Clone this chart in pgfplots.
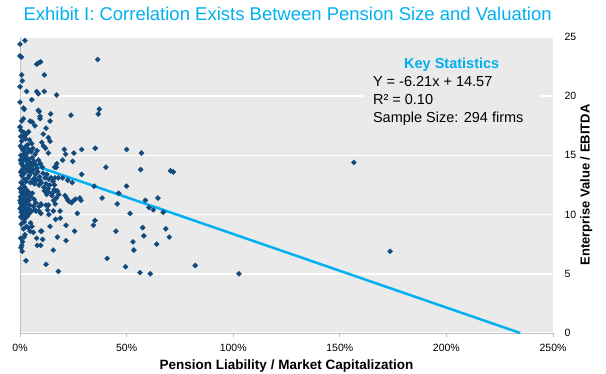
\documentclass[border=0pt]{standalone}
\usepackage{pgfplots}
\pgfplotsset{compat=1.18}
\usepackage{fontspec}
\setmainfont{Liberation Sans}
\definecolor{bggray}{RGB}{234,234,234}
\definecolor{axisgray}{RGB}{191,191,191}
\definecolor{ptblue}{RGB}{18,74,125}
\definecolor{cyanline}{RGB}{0,176,240}
\begin{document}
\begin{tikzpicture}
\useasboundingbox (0,0) rectangle (606bp,374bp);
\begin{axis}[
  at={(20bp,41bp)}, anchor=south west,
  scale only axis, width=533bp, height=296bp,
  xmin=0, xmax=250, ymin=0, ymax=25,
  axis background/.style={fill=bggray},
  separate axis lines,
  axis x line*=bottom,
  axis y line*=right,
  x axis line style={draw=axisgray, line width=0.8bp, -},
  y axis line style={draw=none, -},
  xtick={0,50,...,250},
  ytick={0,5,...,25},
  xticklabel={\pgfmathprintnumber{\tick}\%},
  tick align=outside,
  xtick style={draw=axisgray, line width=0.8bp},
  major tick length=3.5bp,
  ytick style={draw=none},
  ymajorgrids,
  major grid style={white, line width=1.6bp},
  /pgf/number format/assume math mode=true,
  tick label style={font=\fontsize{10.5bp}{12bp}\selectfont},
  xticklabel style={yshift=-4bp},
  yticklabel style={anchor=west, xshift=4.5bp},
  xlabel={Pension Liability / Market Capitalization},
  every axis x label/.style={at={(rel axis cs:0.5,0)}, anchor=base, yshift=-36bp, font=\fontsize{13.5bp}{15bp}\selectfont\bfseries},
  ylabel={Enterprise Value / EBITDA},
  every axis y label/.style={at={(rel axis cs:1,0.5)}, xshift=36.5bp, rotate=90, anchor=base, font=\fontsize{13bp}{15bp}\selectfont\bfseries},
  title={Exhibit I: Correlation Exists Between Pension Size and Valuation},
  title style={at={(rel axis cs:0,1)}, anchor=base west, yshift=11bp, font=\fontsize{18.5bp}{21bp}\selectfont, text=cyanline},
  clip=false,
]
\draw[axisgray, line width=0.8bp] (rel axis cs:0,0) -- (rel axis cs:0,1);
\addplot[only marks, mark=square*, mark size=1.8bp, color=ptblue, mark options={fill=ptblue, rotate=45}] table {
x y
0 24.4
2.3 24.7
0 23.4
0.7 23.3
7.8 22.7
8.6 22.8
9.7 22.9
36.4 23.1
0.8 21.8
1.1 21.3
11.4 21.8
0 20.8
3.1 20.4
7.8 20.4
8.6 20.2
11.4 20.4
17.2 20.1
5.5 19.7
0 19.5
1.6 19.0
2.0 18.9
8.6 18.8
9.0 18.7
9.4 18.3
9.4 18.1
14.4 18.5
23.9 18.4
37.2 18.9
36.7 18.5
14.1 17.9
0.8 17.9
1.6 18.1
4.7 17.9
5.8 17.8
7.0 17.5
12.2 17.3
0 17.4
0.5 17.1
1.2 17.0
2.0 16.9
0.3 16.6
1.5 16.6
3.0 16.8
4.0 17.0
2.6 16.4
0.8 16.2
10.9 16.8
13.3 16.5
14.1 16.2
10.2 16.1
4.5 16.3
5.5 16.0
3.5 15.9
20.8 15.5
28.9 15.5
35.3 15.6
50 15.5
57 15.2
25.3 15.2
21.4 15.1
13.3 15.2
12 15.6
11 15.8
40.3 14.0
56.6 13.8
70.6 13.7
71.9 13.6
50 12.4
24.7 14.5
20.0 14.6
17.2 14.3
17.0 14.0
16.3 14.0
0.2 15.8
0.9 15.6
1.7 15.4
2.4 15.7
3.3 15.2
4.1 15.5
5.2 15.3
6.0 15.6
7.1 15.1
8.0 15.4
0.4 15.0
1.3 14.8
2.1 14.9
3.0 14.6
3.9 14.7
4.8 14.4
5.7 14.8
6.6 14.5
7.5 14.2
8.7 14.6
9.6 14.3
10.5 14.0
0.6 14.3
1.5 14.1
2.6 13.9
3.6 13.7
4.4 13.9
5.4 13.6
6.3 13.8
7.2 13.4
8.3 13.6
9.2 13.2
10.8 13.5
11.7 13.1
12.6 13.4
13.5 13.0
14.6 13.1
15.5 12.8
0.8 13.3
1.9 13.0
2.8 12.8
3.8 13.1
4.9 12.7
5.9 12.9
6.8 12.6
7.8 12.9
8.9 12.5
10.0 12.7
11.2 12.3
12.3 12.6
13.2 12.2
14.0 12.5
16.4 13.1
18.0 13.1
20.0 13.1
22.4 12.9
24.5 12.7
28.9 13.4
34.8 12.4
16.2 12.5
16.8 12.0
12.5 11.9
11.4 12.0
0 12.2
0.5 11.9
1.2 12.1
2.0 11.8
0.3 11.5
1.0 11.3
1.8 11.6
2.6 11.4
3.4 11.7
4.2 11.2
5.0 11.5
5.8 11.8
6.6 11.3
7.4 11.0
0.2 11.0
0.8 10.8
1.5 10.9
2.3 10.6
3.1 10.9
3.9 10.5
4.7 10.8
5.5 10.3
6.3 10.7
7.0 10.4
7.5 10.3
0.1 10.5
0.6 10.2
1.3 10.3
2.0 10.0
2.8 10.2
3.6 9.9
4.4 10.1
0.4 9.8
1.1 9.7
1.9 9.9
9.8 10.8
8.9 10.3
8.9 10.7
9.8 10.9
12.2 10.8
12.9 10.4
13.5 10.0
13.3 10.8
15.6 10.3
12.5 11.7
13.3 11.9
15.0 11.6
15.8 11.2
16.5 10.9
17.0 11.4
21.1 11.6
21.9 11.4
22.5 11.2
23.1 11.1
24.2 11.0
25.2 11.2
26.0 11.3
28.1 11.4
28.6 11.2
38.5 11.4
46.3 11.8
45.6 10.9
58.8 11.2
60.5 10.6
62.5 10.4
64.7 11.4
67.2 10.2
51.6 10.1
15.0 11.8
16.0 12.1
17.5 12.0
18.2 11.7
18.8 10.3
18.9 9.7
16.7 9.6
14.1 9.0
9.8 10.1
21.6 9.1
26.9 10.1
34.4 9.1
35.2 9.5
25.6 8.6
17.5 8.1
21.6 7.8
15.6 7.0
45 8.6
57.5 8.9
58.1 8.2
68.4 8.8
70.0 8.1
53 7.7
53.4 7.0
64.1 7.5
40.9 6.3
49.5 5.6
56.3 5.1
61.1 5.0
82.2 5.7
102.7 5.0
2.8 6.1
12.2 5.8
18.0 5.2
9.8 8.6
7.8 8.0
10.6 7.9
8.1 7.4
9.7 7.4
0.8 7.4
1.2 7.7
1.9 8.1
1.6 8.8
3.1 9.0
5.0 9.3
4.7 8.6
6.3 8.5
0.5 7.2
0.3 8.0
2.3 8.3
3.8 8.9
5.6 9.0
0.6 9.2
2.0 9.4
10.2 8.6
1.0 6.9
0.5 12.7
1.4 12.5
2.2 12.3
3.0 12.1
0.3 13.6
1.1 13.8
2.0 13.5
0.2 14.6
1.0 14.5
1.8 15.1
2.7 15.0
3.4 14.2
4.3 13.3
5.1 14.1
6.1 14.2
6.9 13.1
7.9 13.9
9.4 12.9
0.9 11.6
1.6 11.1
2.4 11.1
3.2 11.3
4.0 11.9
0.0 11.2
0.4 10.6
1.2 10.0
2.6 9.7
3.3 10.4
156.6 14.4
173.6 6.9
};
\addplot[cyanline, line width=2.5bp, no marks] coordinates {(0,14.57) (234.6,0)};
\fill[bggray] (axis cs:160.8,17.3) rectangle (axis cs:244.2,23.7);
\node[anchor=base, font=\fontsize{14.5bp}{17bp}\selectfont\bfseries, text=cyanline, inner sep=0] at (axis cs:202.5,22.34) {Key Statistics};
\node[anchor=base west, font=\fontsize{14.5bp}{17bp}\selectfont, inner sep=0] at (axis cs:165.5,20.82) {Y = -6.21x + 14.57};
\node[anchor=base west, font=\fontsize{14.5bp}{17bp}\selectfont, inner sep=0] at (axis cs:165.5,19.34) {R² = 0.10};
\node[anchor=base west, font=\fontsize{14.5bp}{17bp}\selectfont, inner sep=0] at (axis cs:165.5,17.80) {Sample Size: 294 firms};
\end{axis}
\end{tikzpicture}
\end{document}
